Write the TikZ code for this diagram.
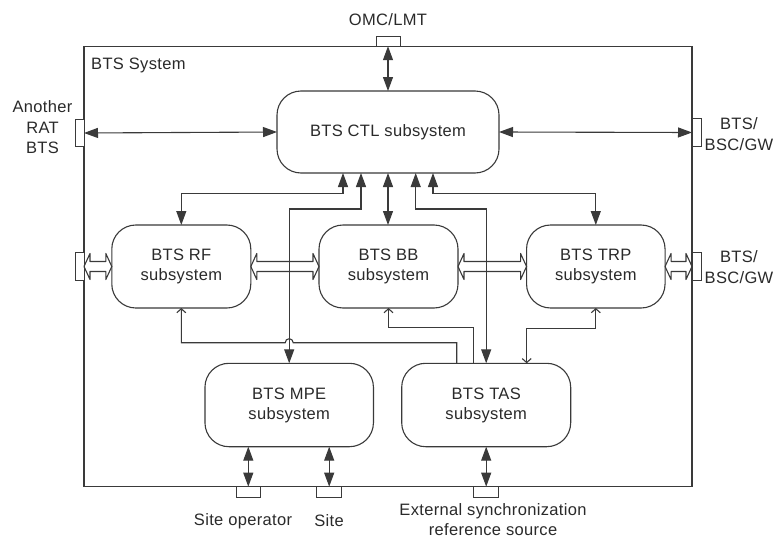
\documentclass[tikz,border=0pt]{standalone}
\usepackage{fontspec}
\setmainfont{Liberation Sans}[LetterSpace=2]
\usetikzlibrary{arrows.meta,calc}
\definecolor{lc}{HTML}{3A3A3A}
\definecolor{tc}{HTML}{2A2A2A}
\tikzset{
  sub/.style={draw=lc, line width=1.1pt, rounded corners=24pt, inner sep=0pt, outer sep=0pt,
    align=center, text=tc, font=\fontsize{16.5}{20}\selectfont},
  port/.style={draw=lc, line width=1pt, fill=white, inner sep=0pt, outer sep=0pt},
  lbl/.style={align=center, text=tc, font=\fontsize{16.5}{20.5}\selectfont, inner sep=0pt},
  conn/.style={draw=lc, line width=1.1pt},
  bi/.style={conn, {Triangle[length=14pt,width=10pt]}-{Triangle[length=14pt,width=10pt]}},
  oend/.style={conn, -{Straight Barb[length=4pt,width=9pt]}},
  obi/.style={conn, {Straight Barb[length=4pt,width=9pt]}-{Straight Barb[length=4pt,width=9pt]}},
  hollow/.style={draw=lc, line width=1.1pt, line join=round,
    to path={let \p1=(\tikztostart), \p2=(\tikztotarget) in
      (\x1,\y1) -- (\x1+6pt,\y1+13pt) -- (\x1+6pt,\y1+5pt) -- (\x2-6pt,\y2+5pt)
      -- (\x2-6pt,\y2+13pt) -- (\x2,\y2) -- (\x2-6pt,\y2-13pt) -- (\x2-6pt,\y2-5pt)
      -- (\x1+6pt,\y1-5pt) -- (\x1+6pt,\y1-13pt) -- cycle}}
}
\begin{document}
\begin{tikzpicture}[x=1pt,y=-1pt]
\useasboundingbox[fill=white] (0,0) rectangle (777,538);
% frame
\draw[conn] (84,46.5) rectangle (692,486.7);
\node[lbl, anchor=west] (sysl) at (91,65) {BTS System};
% subsystems
\node[sub, minimum width=222pt, minimum height=82pt] (ctl) at (388,132) {BTS CTL subsystem};
\node[sub, minimum width=139pt, minimum height=83pt] (rf) at (181.3,266.5) {BTS RF\\subsystem};
\node[sub, minimum width=139pt, minimum height=83pt] (bb) at (388.5,266.5) {BTS BB\\subsystem};
\node[sub, minimum width=138.5pt, minimum height=83pt] (trp) at (595.8,266.5) {BTS TRP\\subsystem};
\node[sub, minimum width=168.5pt, minimum height=83.4pt] (mpe) at (289.2,405) {BTS MPE\\subsystem};
\node[sub, minimum width=169pt, minimum height=83.4pt] (tas) at (486.2,405) {BTS TAS\\subsystem};
% ports
\node[port, minimum width=24pt, minimum height=10pt] (omc) at (388,41.2) {};
\node[port, minimum width=9pt, minimum height=27pt] (rat) at (79.5,133) {};
\node[port, minimum width=9pt, minimum height=28pt] (gwa) at (696.5,132.5) {};
\node[port, minimum width=9pt, minimum height=28pt] (gwb) at (696.5,266.5) {};
\node[port, minimum width=9pt, minimum height=28pt] (rfp) at (79.5,266.5) {};
\node[port, minimum width=24.5pt, minimum height=11.3pt] (sop) at (248.3,492.3) {};
\node[port, minimum width=24.5pt, minimum height=11.3pt] (sitep) at (329.2,492.3) {};
\node[port, minimum width=24.5pt, minimum height=11.3pt] (extp) at (486.2,492.3) {};
% port labels
\node[lbl] (omcl) at (388,20) {OMC/LMT};
\node[lbl] (ratl) at (42.5,127.5) {Another\\RAT\\BTS};
\node[lbl] (gwal) at (739,134) {BTS/\\BSC/GW};
\node[lbl] (gwbl) at (739,267) {BTS/\\BSC/GW};
\node[lbl] (sopl) at (243,521) {Site operator};
\node[lbl] (sitel) at (329,521) {Site};
\node[lbl] (extl) at (493,519.5) {External synchronization\\reference source};
% hollow double arrows
\draw[hollow] (rfp.east) to (rf.west);
\draw[hollow] (rf.east) to (bb.west);
\draw[hollow] (bb.east) to (trp.west);
\draw[hollow] (trp.east) to (gwb.west);
% CTL connectors
\draw[bi] (omc.south) -- (omc.south |- ctl.north);
\draw[bi] (rat.east) -- (ctl.west);
\draw[bi] (ctl.east) -- (gwa.west);
\draw[bi] ([xshift=-45pt]ctl.south) -- ++(0,20.5) -| (rf.north);
\draw[bi] ([xshift=-27pt]ctl.south) -- ++(0,36) -| (mpe.north);
\draw[bi] (ctl.south) -- (ctl.south |- bb.north);
\draw[bi] ([xshift=27.7pt]ctl.south) -- ++(0,36) -| (tas.north);
\draw[bi] ([xshift=45pt]ctl.south) -- ++(0,20.5) -| (trp.north);
% TAS connectors
\draw[oend] ([xshift=-29.5pt]tas.north) -- ++(0,-20.6) coordinate (j)
  -- ($(j -| mpe.north)+(4,0)$) arc[start angle=0, end angle=-180, radius=4]
  -- (j -| rf.south) -- (rf.south);
\draw[oend] ([xshift=-13pt]tas.north) -- ++(0,-36) -| (bb.south);
\draw[obi] ([xshift=40.5pt]tas.north) -- ++(0,-35) -| (trp.south);
% bottom
\draw[bi] (mpe.south -| sop.north) -- (sop.north);
\draw[bi] (mpe.south -| sitep.north) -- (sitep.north);
\draw[bi] (tas.south) -- (extp.north);
\end{tikzpicture}
\end{document}
